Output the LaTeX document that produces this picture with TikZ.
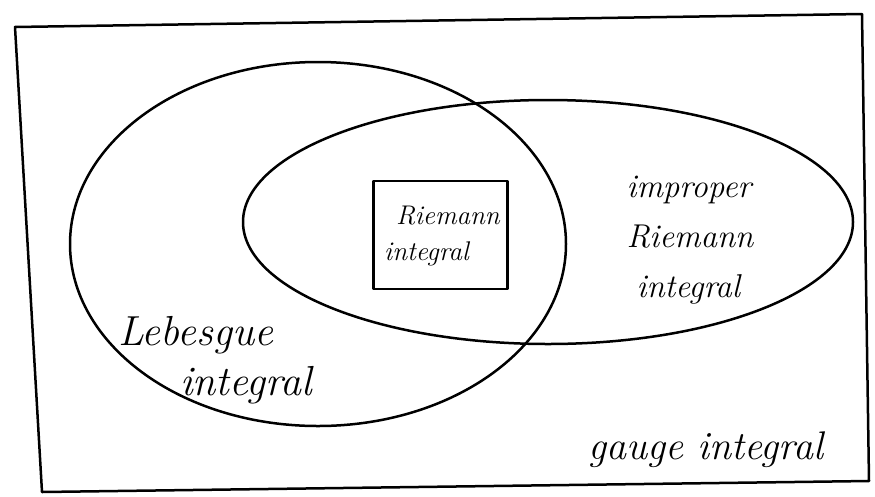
\documentclass[tikz,border=0pt]{standalone}
\usepackage{fontspec}
\setmainfont{Latin Modern Roman}
\begin{document}
\begin{tikzpicture}[x=1pt,y=-1pt,
  pen/.style={line width=2.5pt, line cap=round, line join=round, black},
  hand/.style 2 args={font=\itshape\fontsize{#1}{#2}\selectfont, align=left, inner sep=0pt}]
\useasboundingbox (0,0) rectangle (875,496);
% outer frame (gauge integral)
\coordinate (tl) at (15,27);
\coordinate (tr) at (862,14);
\coordinate (br) at (869,481);
\coordinate (bl) at (42,492);
\draw[pen] (tl) -- (tr) -- (br) -- (bl) -- cycle;
% Lebesgue integral region
\draw[pen] (318,244) ellipse [x radius=248, y radius=182];
% improper Riemann integral region
\draw[pen] (548,222) ellipse [x radius=305, y radius=122];
% Riemann integral box
\node[pen, draw, minimum width=134pt, minimum height=108pt, inner sep=0pt] (riemann) at (440.5,235) {};
\node[hand={27}{36}] (riemanntext) at (442,236) {\hspace*{12pt}Riemann\\integral};
\node[hand={33}{50}] (improper) at (690,240) {improper\\Riemann\\\hspace*{10pt}integral};
\node[hand={42}{50}] (lebesgue) at (215,360) {Lebesgue\\\hspace*{62pt}integral};
\node[hand={40}{48}] (gauge) at (706,450) {gauge integral};
\end{tikzpicture}
\end{document}
